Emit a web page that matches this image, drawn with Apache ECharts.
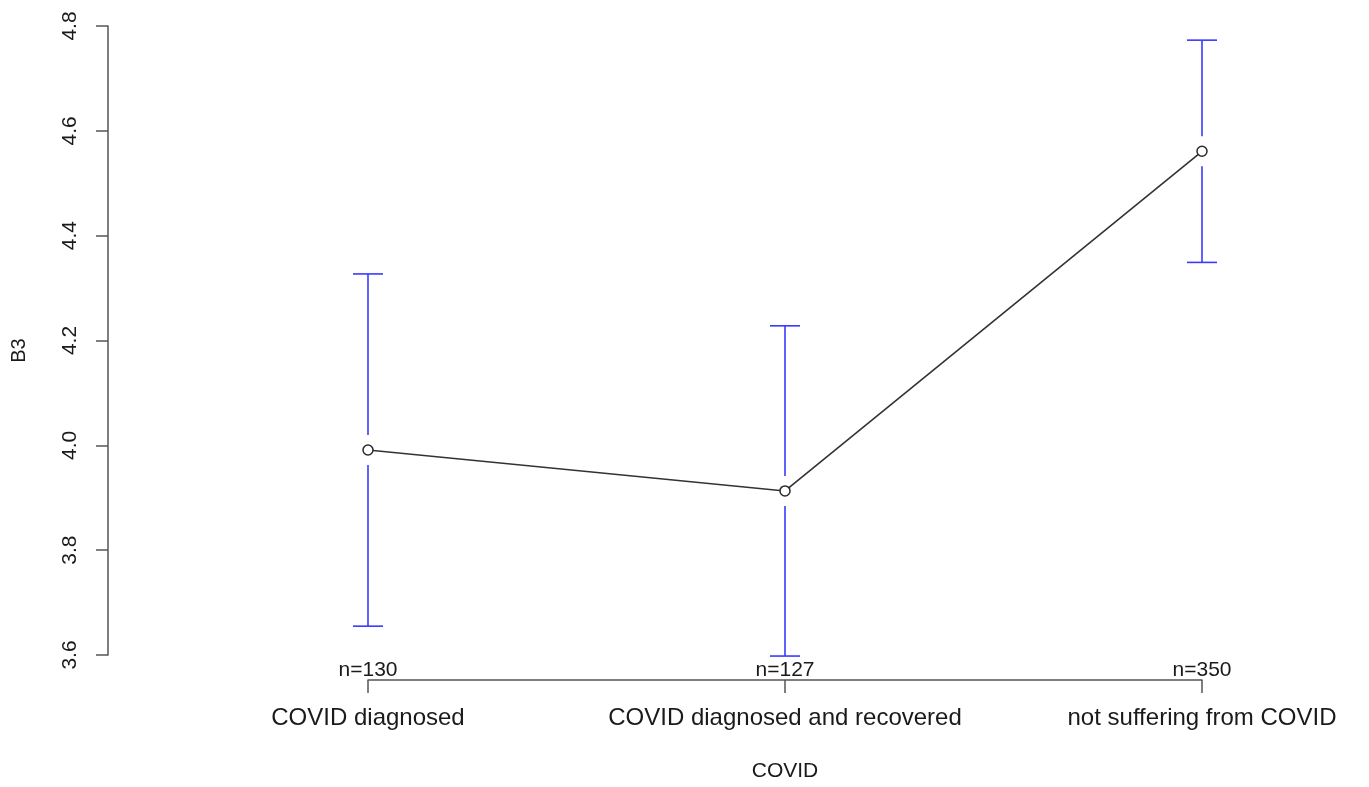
<!DOCTYPE html>
<html>
<head>
<meta charset="utf-8">
<title>B3 by COVID status</title>
<script src="https://cdn.jsdelivr.net/npm/echarts@6/dist/echarts.min.js"></script>
<style>
  html, body { margin: 0; padding: 0; background: #ffffff; }
  #chart { width: 1369px; height: 787px; }
</style>
</head>
<body>
<div id="chart"></div>
<script>
// Group means of B3 with 95% confidence limits
var categories = ['COVID diagnosed', 'COVID diagnosed and recovered', 'not suffering from COVID'];
var groupN = [130, 127, 350];
var means = [3.991, 3.913, 4.561];
var lower = [3.655, 3.598, 4.349];
var upper = [4.327, 4.228, 4.773];
var yTicks = [3.6, 3.8, 4.0, 4.2, 4.4, 4.6, 4.8];

var FONT = '"Liberation Sans", Arial, sans-serif';
var TEXT = '#1a1a1a';
var AXIS = '#555555';
var BAR = '#3a3aff';

var positions = categories.map(function (c, i) { return i + 1; });
var lineData = positions.map(function (x, i) { return [x, means[i]]; });
var barData = positions.map(function (x, i) { return [x, lower[i], upper[i], means[i]]; });
var nData = positions.map(function (x, i) { return [x, yTicks[0], groupN[i]]; });

var chart = echarts.init(document.getElementById('chart'), null, { renderer: 'canvas' });

chart.setOption({
  animation: false,
  backgroundColor: '#ffffff',
  grid: { left: 368, right: 167, top: 26, bottom: 129, containLabel: false },
  xAxis: {
    type: 'value',
    min: 1,
    max: 3,
    interval: 1,
    offset: 25,
    name: 'COVID',
    nameLocation: 'middle',
    nameGap: 81,
    nameTextStyle: { fontFamily: FONT, fontSize: 21, color: TEXT },
    axisLine: { show: true, lineStyle: { color: AXIS, width: 1.5 } },
    axisTick: { show: true, length: 13, lineStyle: { color: AXIS, width: 1.5 } },
    axisLabel: {
      margin: 26,
      fontFamily: FONT,
      fontSize: 24,
      color: TEXT,
      formatter: function (v) { return categories[Math.round(v) - 1] || ''; }
    },
    splitLine: { show: false }
  },
  yAxis: {
    type: 'value',
    min: yTicks[0],
    max: yTicks[yTicks.length - 1],
    interval: 0.2,
    offset: 260,
    name: 'B3',
    nameLocation: 'middle',
    nameGap: 79,
    nameRotate: 90,
    nameTextStyle: { fontFamily: FONT, fontSize: 20, color: TEXT, padding: [0, 20, 0, 0] },
    axisLine: { show: true, lineStyle: { color: AXIS, width: 1.5 } },
    axisTick: { show: true, length: 12, lineStyle: { color: AXIS, width: 1.5 } },
    axisLabel: {
      rotate: 90,
      margin: 27,
      fontFamily: FONT,
      fontSize: 21,
      color: TEXT,
      formatter: function (v) { return v.toFixed(1); }
    },
    splitLine: { show: false }
  },
  series: [
    {
      // confidence interval bars, broken around the mean marker
      type: 'custom',
      clip: false,
      z: 2,
      data: barData,
      renderItem: function (params, api) {
        var x = api.value(0);
        var lo = api.coord([x, api.value(1)]);
        var hi = api.coord([x, api.value(2)]);
        var mid = api.coord([x, api.value(3)]);
        var gap = 15, cap = 15;
        var style = { stroke: BAR, lineWidth: 1.6, fill: null };
        return {
          type: 'group',
          children: [
            { type: 'line', shape: { x1: hi[0], y1: hi[1], x2: mid[0], y2: mid[1] - gap }, style: style },
            { type: 'line', shape: { x1: mid[0], y1: mid[1] + gap, x2: lo[0], y2: lo[1] }, style: style },
            { type: 'line', shape: { x1: hi[0] - cap, y1: hi[1], x2: hi[0] + cap, y2: hi[1] }, style: style },
            { type: 'line', shape: { x1: lo[0] - cap, y1: lo[1], x2: lo[0] + cap, y2: lo[1] }, style: style }
          ]
        };
      }
    },
    {
      // group means joined by a line
      type: 'line',
      data: lineData,
      z: 3,
      symbol: 'circle',
      symbolSize: 10,
      showAllSymbol: true,
      lineStyle: { color: '#333333', width: 1.6 },
      itemStyle: { color: '#ffffff', borderColor: '#2a2a2a', borderWidth: 1.5 }
    },
    {
      // group sizes printed just above the category axis
      type: 'custom',
      clip: false,
      z: 4,
      data: nData,
      renderItem: function (params, api) {
        var p = api.coord([api.value(0), api.value(1)]);
        return {
          type: 'text',
          x: p[0],
          y: p[1] + 15,
          style: {
            text: 'n=' + api.value(2),
            fontFamily: FONT,
            fontSize: 21,
            fill: TEXT,
            align: 'center',
            verticalAlign: 'middle'
          }
        };
      }
    }
  ]
});
</script>
</body>
</html>
